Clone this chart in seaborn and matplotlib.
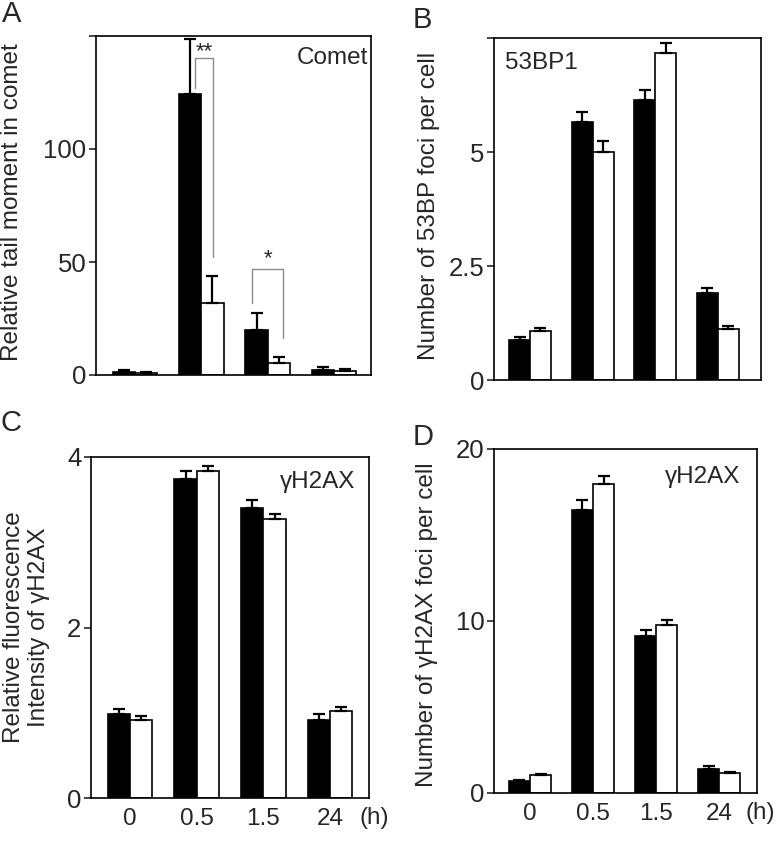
import pandas as pd
import seaborn as sns
import matplotlib.pyplot as plt

# x categories (hours) and the two series per panel (filled / open bars)
times = ["0", "0.5", "1.5", "24"]
groups = ["filled", "open"]

comet_filled = [1.3, 124.5, 20.0, 2.2]
comet_filled_err = [0.8, 24.0, 7.5, 1.4]
comet_open = [0.9, 32.0, 5.3, 1.6]
comet_open_err = [0.3, 12.0, 2.8, 1.0]

bp53_filled = [0.88, 5.65, 6.15, 1.90]
bp53_filled_err = [0.06, 0.23, 0.22, 0.11]
bp53_open = [1.07, 5.00, 7.18, 1.12]
bp53_open_err = [0.06, 0.25, 0.22, 0.07]

fluo_filled = [0.99, 3.74, 3.40, 0.91]
fluo_filled_err = [0.05, 0.10, 0.10, 0.07]
fluo_open = [0.91, 3.84, 3.27, 1.02]
fluo_open_err = [0.05, 0.06, 0.06, 0.05]

foci_filled = [0.67, 16.47, 9.10, 1.41]
foci_filled_err = [0.10, 0.58, 0.35, 0.18]
foci_open = [1.02, 17.98, 9.74, 1.16]
foci_open_err = [0.08, 0.47, 0.34, 0.06]

sns.set_style("ticks")
plt.rcParams['font.family'] = ['Liberation Sans', 'DejaVu Sans']
plt.rcParams['axes.linewidth'] = 1.2
FS = 17.5
YFS = 18.5

palette = {"filled": "black", "open": "white"}


def make_df(filled, open_):
    return pd.DataFrame({
        "time": times * 2,
        "group": ["filled"] * 4 + ["open"] * 4,
        "value": filled + open_,
    })


def bar_panel(ax, filled, filled_err, open_, open_err):
    df = make_df(filled, open_)
    sns.barplot(data=df, x="time", y="value", hue="group",
                order=times, hue_order=groups, palette=palette,
                edgecolor="black", linewidth=1.2, width=0.67,
                errorbar=None, legend=False, ax=ax)
    for cont, err in zip(ax.containers, [filled_err, open_err]):
        xs = [p.get_x() + p.get_width() / 2 for p in cont.patches]
        ys = [p.get_height() for p in cont.patches]
        ax.errorbar(xs, ys, yerr=[[0] * len(err), err], fmt="none",
                    ecolor="black", elinewidth=1.6, capsize=4.5,
                    capthick=1.6, zorder=3)
    ax.set_xlabel("")
    ax.tick_params(axis="y", direction="out", length=5, width=1.2,
                   labelsize=YFS, pad=2)
    ax.tick_params(axis="x", length=0, labelsize=FS, pad=7)
    for s in ax.spines.values():
        s.set_visible(True)
        s.set_color("black")


fig = plt.figure(figsize=(7.77, 8.44), dpi=100)
W, H = 777, 844


def px_axes(left, right, top, bottom):
    return fig.add_axes([left / W, (H - bottom) / H, (right - left) / W,
                         (bottom - top) / H])


axA = px_axes(96, 371, 36, 375)
axB = px_axes(494, 761, 38, 380)
axC = px_axes(91, 369, 457, 798)
axD = px_axes(494, 757, 449, 793)

# Panel A: comet
bar_panel(axA, comet_filled, comet_filled_err, comet_open, comet_open_err)
axA.set_ylim(0, 150)
axA.set_xlim(-0.59, 3.56)
axA.set_yticks([0, 50, 100, 150])
axA.set_yticklabels(["0", "50", "100", ""])
axA.set_xticks([])
axA.set_ylabel("Relative tail moment in comet", fontsize=FS)
axA.yaxis.set_label_coords(-0.265, 0.51)
axA.text(0.989, 0.935, "Comet", transform=axA.transAxes, ha="right",
         va="center", fontsize=FS)
# significance brackets
gray = "#8a8a8a"
axA.plot([0.91, 0.91, 1.18, 1.18], [127, 140.3, 140.3, 52], color=gray, lw=1)
axA.text(1.04, 143, "**", ha="center", va="center", fontsize=16)
axA.plot([1.77, 1.77, 2.23, 2.23], [31.9, 46.9, 46.9, 16.4], color=gray, lw=1)
axA.text(2.0, 51.5, "*", ha="center", va="center", fontsize=16)

# Panel B: 53BP1
bar_panel(axB, bp53_filled, bp53_filled_err, bp53_open, bp53_open_err)
axB.set_ylim(0, 7.5)
axB.set_xlim(-0.575, 3.69)
axB.set_yticks([0, 2.5, 5, 7.5])
axB.set_yticklabels(["0", "2.5", "5", ""])
axB.set_xticks([])
axB.set_ylabel("Number of 53BP foci per cell", fontsize=FS)
axB.yaxis.set_label_coords(-0.202, 0.51)
axB.text(0.041, 0.927, "53BP1", transform=axB.transAxes, ha="left",
         va="center", fontsize=FS)

# Panel C: fluorescence intensity
bar_panel(axC, fluo_filled, fluo_filled_err, fluo_open, fluo_open_err)
axC.set_ylim(0, 4)
axC.set_xlim(-0.585, 3.585)
axC.set_yticks([0, 2, 4])
axC.set_ylabel("Relative fluorescence\nIntensity of γH2AX", fontsize=FS)
axC.yaxis.set_label_coords(-0.147, 0.5)
axC.text(0.95, 0.927, "γH2AX", transform=axC.transAxes, ha="right",
         va="center", fontsize=FS)
axC.text(1.02, -0.025, "(h)", transform=axC.transAxes, ha="center",
         va="top", fontsize=FS)

# Panel D: gamma-H2AX foci
bar_panel(axD, foci_filled, foci_filled_err, foci_open, foci_open_err)
axD.set_ylim(0, 20)
axD.set_xlim(-0.57, 3.60)
axD.set_yticks([0, 10, 20])
axD.set_ylabel("Number of γH2AX foci per cell", fontsize=FS)
axD.yaxis.set_label_coords(-0.213, 0.49)
axD.text(0.935, 0.919, "γH2AX", transform=axD.transAxes, ha="right",
         va="center", fontsize=FS)
axD.text(1.011, -0.025, "(h)", transform=axD.transAxes, ha="center",
         va="top", fontsize=FS)

# panel letters
for x, y, letter in [(2, 0, "A"), (413, 6, "B"), (1, 409, "C"), (413, 423, "D")]:
    fig.text(x / W, 1 - y / H, letter, ha="left", va="top", fontsize=21)

plt.savefig("out.png", dpi=100)
